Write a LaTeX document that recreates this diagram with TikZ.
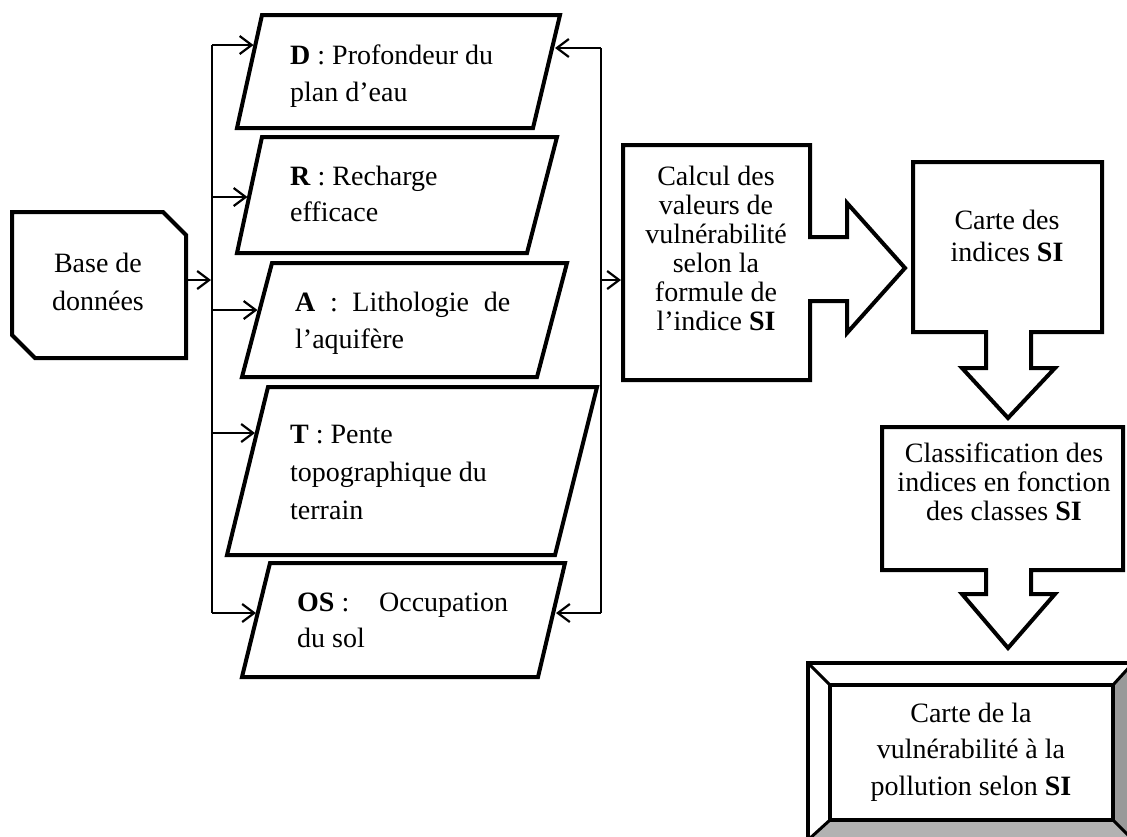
\documentclass[tikz,border=0pt]{standalone}
\usepackage{fontspec}
\setmainfont{Liberation Serif}
\usetikzlibrary{arrows.meta,calc}
\begin{document}
\begin{tikzpicture}[x=1pt,y=-1pt,
  shapeline/.style={line width=4pt, line join=miter},
  conn/.style={line width=2pt},
  arr/.style={line width=2.2pt, -{Straight Barb[length=12pt,width=18pt]}},
  txt/.style={inner sep=0pt, font=\fontsize{28}{36.5}\selectfont},
  ptxt/.style={txt, anchor=west, align=left},
  ctxt/.style={txt, align=center}
]
\useasboundingbox (0,0) rectangle (1127,836);
\clip (0,0) rectangle (1127,836);
\fill[white] (0,0) rectangle (1127,836);

% Base de donnees
\draw[shapeline] (12,212) -- (163,212) -- (186,235) -- (186,358) -- (35,358) -- (12,335) -- cycle;
\node[ctxt, font=\fontsize{28}{38}\selectfont] (base) at (98,281.5) {Base de\\données};

% parallelograms
\draw[shapeline] (262,15) -- (560,15) -- (533,128) -- (237,128) -- cycle;
\node[ptxt] (D) at (290,76) {\textbf{D} : Profondeur du\\plan d’eau};
\draw[shapeline] (262,137) -- (557,137) -- (527,253) -- (237,253) -- cycle;
\node[ptxt] (R) at (290,194) {\textbf{R} : Recharge\\efficace};
\draw[shapeline] (272,263) -- (567,263) -- (537,377) -- (242,377) -- cycle;
\node[ptxt] (A) at (295,323.5) {\makebox[215pt][s]{\textbf{A} : Lithologie de}\\l’aquifère};
\draw[shapeline] (268,387) -- (597,387) -- (555,555) -- (227,555) -- cycle;
\node[ptxt, font=\fontsize{28}{38}\selectfont] (T) at (290,472) {\textbf{T} : Pente\\topographique du\\terrain};
\draw[shapeline] (270,563) -- (565,563) -- (538,677) -- (242,677) -- cycle;
\node[ptxt] (OS) at (297,620.5) {\makebox[211pt][l]{\textbf{OS} :\hfill Occupation}\\du sol};

% left bus
\coordinate (baseE) at (188,280);
\coordinate (busB) at (211,280);
\draw[arr] (baseE) -- (busB);
\coordinate (L1) at (212,45);
\coordinate (L2) at (212,197);
\coordinate (L3) at (212,310);
\coordinate (L4) at (212,433);
\coordinate (L5) at (212,613);
\draw[conn] (L1) -- (L5);
\coordinate (Din) at (253.5,45);
\coordinate (Rin) at (247.5,197);
\coordinate (Ain) at (257.5,310);
\coordinate (Tin) at (255,433);
\coordinate (OSin) at (256,613);
\draw[arr] (L1) -- (Din);
\draw[arr] (L2) -- (Rin);
\draw[arr] (L3) -- (Ain);
\draw[arr] (L4) -- (Tin);
\draw[arr] (L5) -- (OSin);

% right bus
\coordinate (R1) at (601,48);
\coordinate (R5) at (601,613);
\coordinate (Rc) at (601,280);
\draw[conn] (R1) -- (R5);
\coordinate (Dout) at (555,48);
\coordinate (OSout) at (556,613);
\coordinate (Calcin) at (621,280);
\draw[arr] (R1) -- (Dout);
\draw[arr] (R5) -- (OSout);
\draw[arr] (Rc) -- (Calcin);

% Calcul callout
\draw[shapeline] (623,145) -- (810,145) -- (810,237) -- (847,237) -- (847,203) -- (905,268) -- (847,333) -- (847,301) -- (810,301) -- (810,380) -- (623,380) -- cycle;
\node[ctxt, font=\fontsize{28}{29}\selectfont] (calc) at (716,248) {Calcul des\\valeurs de\\vulnérabilité\\selon la\\formule de\\l’indice \textbf{SI}};

% Carte des indices callout
\draw[shapeline] (913,162) -- (1102,162) -- (1102,332) -- (1031,332) -- (1031,368) -- (1055,368) -- (1008,418) -- (962,368) -- (986,368) -- (986,332) -- (913,332) -- cycle;
\node[ctxt, font=\fontsize{28}{32}\selectfont] (carte) at (1007,236) {Carte des\\indices \textbf{SI}};

% Classification callout
\draw[shapeline] (882,427) -- (1123,427) -- (1123,570) -- (1031,570) -- (1031,594) -- (1055,594) -- (1008,648) -- (962,594) -- (986,594) -- (986,570) -- (882,570) -- cycle;
\node[ctxt, font=\fontsize{28}{29}\selectfont] (class) at (1004,482) {Classification des\\indices en fonction\\des classes \textbf{SI}};

% Bevel
\fill[black!40] (1113,685) -- (1133,663) -- (1133,840) -- (1113,820) -- cycle;
\fill[black!30] (830,820) -- (1113,820) -- (1133,840) -- (808,840) -- cycle;
\draw[shapeline] (808,663) rectangle (1133,840);
\draw[shapeline] (830,685) rectangle (1113,820);
\draw[line width=3pt] (808,663) -- (830,685) (1133,663) -- (1113,685) (808,840) -- (830,820) (1133,840) -- (1113,820);
\node[ctxt] (final) at (971,752) {Carte de la\\vulnérabilité à la\\pollution selon \textbf{SI}};
\end{tikzpicture}
\end{document}
